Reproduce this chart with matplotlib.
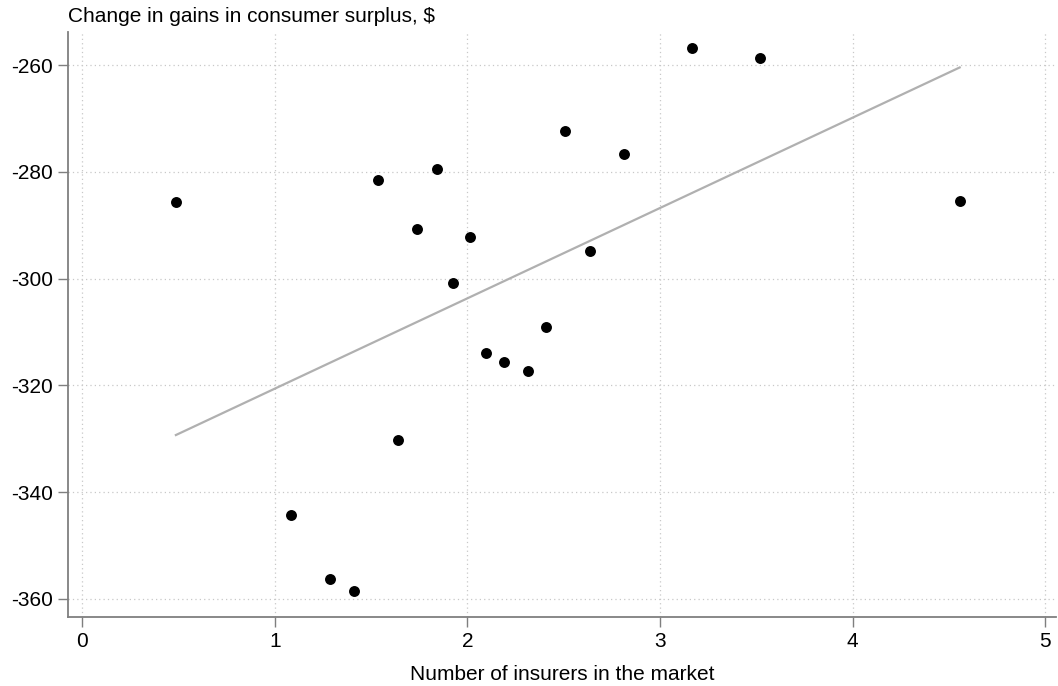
import numpy as np
import matplotlib
matplotlib.use("Agg")
import matplotlib.pyplot as plt

plt.rcParams['font.family'] = ['Liberation Sans', 'DejaVu Sans']
plt.rcParams['axes.unicode_minus'] = False

insurers = [0.487, 1.087, 1.285, 1.41, 1.535, 1.64, 1.741, 1.842, 1.925, 2.014,
            2.095, 2.192, 2.317, 2.408, 2.505, 2.635, 2.811, 3.167, 3.517, 4.555]
cs_change = [-285.7, -344.2, -356.2, -358.6, -281.6, -330.2, -290.8, -279.4, -300.8, -292.2,
             -313.9, -315.6, -317.4, -309.0, -272.4, -294.8, -276.6, -256.8, -258.6, -285.5]
x_ticks = [0, 1, 2, 3, 4, 5]
y_ticks = [-360, -340, -320, -300, -280, -260]

x = np.array(insurers)
y = np.array(cs_change)
slope, intercept = np.polyfit(x, y, 1)
xf = np.array([x.min(), x.max()])
yf = intercept + slope * xf

fig = plt.figure(figsize=(10.58, 6.86), dpi=100)
ax = fig.add_axes([68/1058, 1 - 617/686, (1056-68)/1058, (617-32)/686])

ax.plot(xf, yf, color='#b0b0b0', lw=1.6, zorder=2)
ax.scatter(x, y, s=62, color='black', zorder=3, linewidths=0)

ax.set_xlim(-0.073, 5.055)
ax.set_ylim(-363.4, -253.8)
ax.set_xticks(x_ticks)
ax.set_yticks(y_ticks)
ax.grid(True, color='#c8c8c8', linestyle=(0, (1, 2.5)), linewidth=0.9)
ax.set_axisbelow(True)
for s in ['top', 'right']:
    ax.spines[s].set_visible(False)
for s in ['left', 'bottom']:
    ax.spines[s].set_color('#7f7f7f')
    ax.spines[s].set_linewidth(1.3)
ax.tick_params(axis='both', colors='#7f7f7f', length=7, width=1.0, labelsize=15,
               labelcolor='black', direction='out', pad=4)
ax.set_xlabel('Number of insurers in the market', fontsize=15, labelpad=10)
fig.text(68/1058, 1 - 16/686, r'Change in gains in consumer surplus, \$', fontsize=15,
         ha='left', va='center')

fig.savefig('out.png', dpi=100)
